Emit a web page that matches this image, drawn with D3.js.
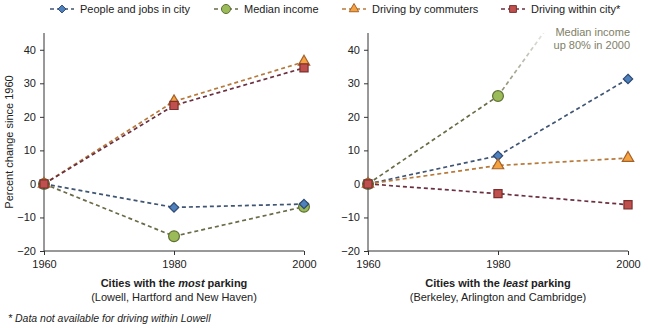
<!DOCTYPE html>
<html>
<head>
<meta charset="utf-8">
<script src="https://cdn.jsdelivr.net/npm/d3@7"></script>
<style>
  body { margin: 0; background: #fff; }
  text { font-family: "Liberation Sans", Arial, sans-serif; fill: #222; }
</style>
</head>
<body>
<div id="chart"></div>
<script>
// Years on the x axis
var years = [1960, 1980, 2000];

// Percent change since 1960, cities with the most parking
var mostPeople = [0, -7, -6];
var mostIncome = [0, -15.6, -6.8];
var mostCommute = [0, 24.6, 36.4];
var mostWithin = [0, 23.4, 34.6];

// Percent change since 1960, cities with the least parking
var leastPeople = [0, 8.4, 31.3];
var leastIncome = [0, 26.2, 80];
var leastCommute = [0, 5.5, 7.7];
var leastWithin = [0, -2.9, -6.2];

var yTicks = [-20, -10, 0, 10, 20, 30, 40];

var seriesNames = ["People and jobs in city", "Median income", "Driving by commuters", "Driving within city*"];

// square diamond (equal width and height)
var squareDiamond = {
    draw: function(ctx, size) {
        var r = Math.sqrt(size / 2);
        ctx.moveTo(0, -r);
        ctx.lineTo(r, 0);
        ctx.lineTo(0, r);
        ctx.lineTo(-r, 0);
        ctx.closePath();
    }
};

var styles = [
    { line: "#3f5573", fill: "#4f81bd", stroke: "#2e4a72", shape: squareDiamond, size: 44 },
    { line: "#6b6b48", fill: "#9bbb59", stroke: "#5f7035", shape: d3.symbolCircle, size: 92 },
    { line: "#b87a3c", fill: "#f5a341", stroke: "#a5612a", shape: d3.symbolTriangle, size: 56 },
    { line: "#6a3040", fill: "#c0504d", stroke: "#7c2f2e", shape: d3.symbolSquare, size: 66 }
];

var svg = d3.select("#chart").append("svg")
    .attr("width", 648)
    .attr("height", 328);

var defs = svg.append("defs");

// fade used for the income line that leaves the chart
var grad = defs.append("linearGradient")
    .attr("id", "fade")
    .attr("gradientUnits", "userSpaceOnUse")
    .attr("x1", 497).attr("y1", 96)
    .attr("x2", 545).attr("y2", 33);
grad.append("stop").attr("offset", "0%").attr("stop-color", "#85856a");
grad.append("stop").attr("offset", "100%").attr("stop-color", "#e6e6e2");

var yScale = d3.scaleLinear().domain([-20, 45]).range([251, 33]);

function drawPanel(x0, x1, data, clipId, fadeIncome) {
    var xScale = d3.scaleLinear().domain([1960, 2000]).range([x0, x1]);
    var g = svg.append("g");

    defs.append("clipPath").attr("id", clipId)
        .append("rect")
        .attr("x", x0 - 10).attr("y", yScale(45))
        .attr("width", x1 - x0 + 20).attr("height", yScale(-20) - yScale(45) + 10);

    // axes
    g.append("g")
        .attr("transform", "translate(0," + yScale(-20) + ")")
        .call(d3.axisBottom(xScale).tickValues(years).tickFormat(d3.format("d")).tickSize(4).tickPadding(5))
        .call(function(a) {
            a.select(".domain").attr("stroke", "#333").attr("d", "M" + x0 + ",0H" + x1);
            a.selectAll("line").attr("stroke", "#333");
            a.selectAll("text").attr("font-size", "11px").attr("fill", "#222");
        });

    g.append("g")
        .attr("transform", "translate(" + x0 + ",0)")
        .call(d3.axisLeft(yScale).tickValues(yTicks).tickSize(4).tickPadding(4))
        .call(function(a) {
            a.select(".domain").attr("stroke", "#333").attr("d", "M0," + yScale(45) + "V" + yScale(-20));
            a.selectAll("line").attr("stroke", "#333");
            a.selectAll("text").attr("font-size", "11px").attr("fill", "#222");
        });

    var line = d3.line()
        .x(function(d, i) { return xScale(years[i]); })
        .y(function(d) { return yScale(d); });

    var lines = g.append("g").attr("clip-path", "url(#" + clipId + ")");

    data.forEach(function(vals, k) {
        var st = styles[k];
        if (fadeIncome && k === 1) {
            lines.append("path")
                .attr("d", line(vals.slice(0, 2)))
                .attr("fill", "none")
                .attr("stroke", st.line)
                .attr("stroke-width", 1.7)
                .attr("stroke-dasharray", "4,3");
            var seg = d3.line()
                .x(function(d, i) { return xScale(years[i + 1]); })
                .y(function(d) { return yScale(d); });
            lines.append("path")
                .attr("d", seg(vals.slice(1)))
                .attr("fill", "none")
                .attr("stroke", "url(#fade)")
                .attr("stroke-width", 1.7)
                .attr("stroke-dasharray", "4,3");
        } else {
            lines.append("path")
                .attr("d", line(vals))
                .attr("fill", "none")
                .attr("stroke", st.line)
                .attr("stroke-width", 1.7)
                .attr("stroke-dasharray", "4,3");
        }
    });

    // markers, drawn back to front so the squares sit on top at 1960
    [1, 0, 2, 3].forEach(function(k) {
        var st = styles[k];
        var vals = data[k];
        g.selectAll(null)
            .data(vals.filter(function(v) { return v <= 45; }))
            .enter()
            .append("path")
            .attr("d", d3.symbol().type(st.shape).size(st.size))
            .attr("transform", function(d) {
                var i = vals.indexOf(d);
                return "translate(" + xScale(years[i]) + "," + yScale(d) + ")";
            })
            .attr("fill", st.fill)
            .attr("stroke", st.stroke)
            .attr("stroke-width", 1.2);
    });

    return xScale;
}

drawPanel(44, 304, [mostPeople, mostIncome, mostCommute, mostWithin], "clipL", false);
drawPanel(368, 628, [leastPeople, leastIncome, leastCommute, leastWithin], "clipR", true);

// y axis title
svg.append("text")
    .attr("transform", "translate(13," + ((yScale(45) + yScale(-20)) / 2) + ") rotate(-90)")
    .attr("text-anchor", "middle")
    .attr("font-size", "11px")
    .text("Percent change since 1960");

// panel captions
var t1 = svg.append("text").attr("x", 174).attr("y", 287).attr("text-anchor", "middle")
    .attr("font-size", "11px").attr("font-weight", "bold");
t1.append("tspan").text("Cities with the ");
t1.append("tspan").attr("font-style", "italic").text("most");
t1.append("tspan").text(" parking");
svg.append("text").attr("x", 174).attr("y", 301).attr("text-anchor", "middle")
    .attr("font-size", "11px").text("(Lowell, Hartford and New Haven)");

var t2 = svg.append("text").attr("x", 498).attr("y", 287).attr("text-anchor", "middle")
    .attr("font-size", "11px").attr("font-weight", "bold");
t2.append("tspan").text("Cities with the ");
t2.append("tspan").attr("font-style", "italic").text("least");
t2.append("tspan").text(" parking");
svg.append("text").attr("x", 498).attr("y", 301).attr("text-anchor", "middle")
    .attr("font-size", "11px").text("(Berkeley, Arlington and Cambridge)");

svg.append("text").attr("x", 8).attr("y", 322)
    .attr("font-size", "10.5px").attr("font-style", "italic")
    .text("* Data not available for driving within Lowell");

// note for the income value that runs off the chart
svg.append("text").attr("x", 630).attr("y", 36).attr("text-anchor", "end")
    .attr("font-size", "11px").style("fill", "#808066").text("Median income");
svg.append("text").attr("x", 630).attr("y", 49).attr("text-anchor", "end")
    .attr("font-size", "11px").style("fill", "#808066").text("up 80% in 2000");

// legend
var legendX = [50, 214, 342, 501];
var legend = svg.append("g");
seriesNames.forEach(function(name, k) {
    var st = styles[k];
    var lg = legend.append("g").attr("transform", "translate(" + legendX[k] + ",9)");
    lg.append("line")
        .attr("x1", 0).attr("x2", 24)
        .attr("stroke", st.line)
        .attr("stroke-width", 1.7)
        .attr("stroke-dasharray", "4,3");
    lg.append("path")
        .attr("d", d3.symbol().type(st.shape).size(st.size * 0.7))
        .attr("transform", "translate(12,0)")
        .attr("fill", st.fill)
        .attr("stroke", st.stroke)
        .attr("stroke-width", 1);
    lg.append("text")
        .attr("x", 30).attr("y", 4)
        .attr("font-size", "11px")
        .text(name);
});
</script>
</body>
</html>
